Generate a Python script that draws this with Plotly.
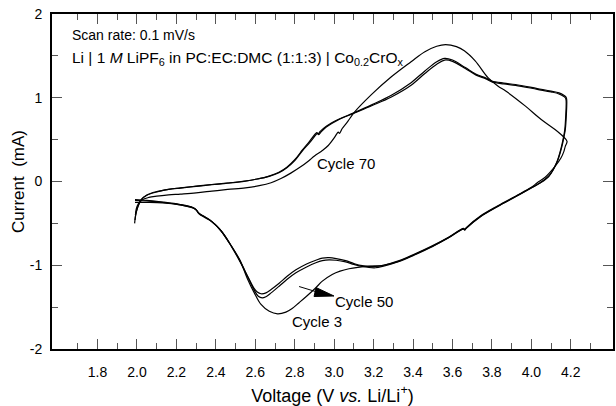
import plotly.graph_objects as go

# ---------------- data ----------------
# Cycle 3
v_c3_anodic = [1.988, 1.993, 2.003, 2.02, 2.05, 2.10, 2.16, 2.22, 2.30, 2.38, 2.46, 2.55, 2.61, 2.67, 2.72,
               2.76, 2.80, 2.84, 2.875, 2.905, 2.912, 2.918, 2.93, 2.96, 3.02, 3.10, 3.19, 3.29, 3.39, 3.46,
               3.52, 3.56, 3.60, 3.665, 3.72, 3.77, 3.80, 3.86, 3.92, 4.03, 4.10, 4.14, 4.175]
i_c3_anodic = [-0.50, -0.40, -0.31, -0.22, -0.165, -0.125, -0.095, -0.078, -0.058, -0.038, -0.02, 0.005, 0.03,
               0.065, 0.11, 0.17, 0.26, 0.38, 0.48, 0.57, 0.585, 0.57, 0.60, 0.66, 0.74, 0.82, 0.915, 1.03,
               1.18, 1.32, 1.43, 1.47, 1.45, 1.36, 1.28, 1.235, 1.20, 1.175, 1.158, 1.11, 1.08, 1.058, 1.01]
v_c3_cathodic = [4.179, 4.177, 4.172, 4.166, 4.155, 4.13, 4.09, 4.04, 4.00, 3.92, 3.83, 3.74, 3.67, 3.662,
                 3.655, 3.58, 3.50, 3.40, 3.33, 3.25, 3.18, 3.12, 3.075, 3.03, 2.99, 2.94, 2.907, 2.86, 2.822,
                 2.785, 2.755, 2.713, 2.671, 2.629, 2.595, 2.56, 2.52, 2.47, 2.42, 2.37, 2.335, 2.31, 2.30,
                 2.283, 2.22, 2.13, 2.05, 1.99]
i_c3_cathodic = [0.98, 0.78, 0.62, 0.54, 0.42, 0.23, 0.07, -0.02, -0.075, -0.18, -0.295, -0.42, -0.555, -0.575,
                 -0.565, -0.67, -0.77, -0.88, -0.95, -1.0, -1.01, -1.025, -1.042, -1.07, -1.11, -1.19, -1.268,
                 -1.37, -1.447, -1.52, -1.56, -1.58, -1.55, -1.468, -1.33, -1.16, -0.93, -0.74, -0.57, -0.46,
                 -0.41, -0.37, -0.335, -0.31, -0.275, -0.245, -0.225, -0.215]

# Cycle 50
v_c50_anodic = [1.990, 1.995, 2.005, 2.022, 2.05, 2.10, 2.16, 2.22, 2.30, 2.38, 2.46, 2.55, 2.61, 2.67, 2.72,
                2.76, 2.80, 2.84, 2.878, 2.908, 2.915, 2.921, 2.933, 2.96, 3.02, 3.10, 3.19, 3.29, 3.39, 3.46,
                3.52, 3.56, 3.60, 3.665, 3.72, 3.77, 3.80, 3.86, 3.92, 4.03, 4.10, 4.14, 4.172]
i_c50_anodic = [-0.46, -0.38, -0.30, -0.215, -0.16, -0.12, -0.093, -0.076, -0.056, -0.036, -0.018, 0.006, 0.03,
                0.062, 0.105, 0.165, 0.25, 0.37, 0.47, 0.56, 0.575, 0.56, 0.59, 0.65, 0.735, 0.815, 0.905, 1.01,
                1.15, 1.29, 1.40, 1.45, 1.435, 1.35, 1.27, 1.225, 1.19, 1.165, 1.148, 1.10, 1.07, 1.045, 1.00]
v_c50_cathodic = [4.176, 4.174, 4.169, 4.163, 4.152, 4.127, 4.088, 4.04, 4.00, 3.92, 3.83, 3.74, 3.67, 3.662,
                  3.655, 3.58, 3.50, 3.40, 3.33, 3.25, 3.21, 3.142, 3.10, 3.058, 3.01, 2.974, 2.94, 2.907, 2.86,
                  2.806, 2.76, 2.721, 2.68, 2.654, 2.635, 2.615, 2.595, 2.57, 2.53, 2.48, 2.43, 2.38, 2.34,
                  2.315, 2.305, 2.288, 2.22, 2.13, 2.05, 1.99]
i_c50_cathodic = [0.97, 0.77, 0.61, 0.53, 0.41, 0.22, 0.06, -0.025, -0.078, -0.182, -0.298, -0.425, -0.56,
                  -0.58, -0.568, -0.672, -0.775, -0.885, -0.955, -1.01, -1.03, -1.015, -0.99, -0.96, -0.94,
                  -0.935, -0.945, -0.97, -1.02, -1.09, -1.17, -1.25, -1.33, -1.375, -1.39, -1.37, -1.30, -1.18,
                  -0.99, -0.78, -0.60, -0.48, -0.425, -0.385, -0.35, -0.32, -0.28, -0.25, -0.232, -0.225]

# Cycle 70
v_c70_anodic = [1.992, 1.996, 2.006, 2.025, 2.06, 2.10, 2.16, 2.22, 2.30, 2.38, 2.46, 2.55, 2.62, 2.68, 2.73,
                2.78, 2.83, 2.87, 2.90, 2.94, 2.97, 3.00, 3.015, 3.021, 3.027, 3.04, 3.07, 3.10, 3.19, 3.29,
                3.39, 3.46, 3.52, 3.565, 3.62, 3.66, 3.715, 3.78, 3.83, 3.87, 3.97, 4.05, 4.12, 4.16, 4.181]
i_c70_anodic = [-0.40, -0.33, -0.27, -0.22, -0.19, -0.175, -0.16, -0.15, -0.135, -0.115, -0.095, -0.075, -0.05,
                -0.015, 0.035, 0.10, 0.175, 0.245, 0.305, 0.37, 0.43, 0.52, 0.575, 0.59, 0.575, 0.63, 0.72,
                0.82, 1.04, 1.25, 1.43, 1.55, 1.615, 1.635, 1.61, 1.56, 1.44, 1.24, 1.14, 1.08, 0.90, 0.74,
                0.62, 0.54, 0.48]
v_c70_cathodic = [4.172, 4.165, 4.15, 4.12, 4.07, 4.03, 4.00, 3.92, 3.83, 3.74, 3.67, 3.663, 3.656, 3.58, 3.50,
                  3.40, 3.33, 3.25, 3.21, 3.142, 3.10, 3.058, 3.01, 2.974, 2.94, 2.907, 2.86, 2.806, 2.76,
                  2.721, 2.68, 2.654, 2.629, 2.61, 2.592, 2.565, 2.525, 2.475, 2.425, 2.375, 2.338, 2.312,
                  2.302, 2.285, 2.22, 2.13, 2.05, 1.99]
i_c70_cathodic = [0.42, 0.36, 0.28, 0.18, 0.05, -0.015, -0.07, -0.175, -0.29, -0.415, -0.55, -0.57, -0.56,
                  -0.665, -0.765, -0.875, -0.945, -1.0, -1.015, -1.005, -0.98, -0.945, -0.92, -0.91, -0.915,
                  -0.94, -0.985, -1.055, -1.135, -1.215, -1.29, -1.33, -1.34, -1.32, -1.27, -1.15, -0.96,
                  -0.755, -0.585, -0.47, -0.415, -0.38, -0.345, -0.315, -0.28, -0.255, -0.25, -0.25]

x_major_ticks = [1.8, 2.0, 2.2, 2.4, 2.6, 2.8, 3.0, 3.2, 3.4, 3.6, 3.8, 4.0, 4.2]
x_tick_labels = ["1.8", "2.0", "2.2", "2.4", "2.6", "2.8", "3.0", "3.2", "3.4", "3.6", "3.8", "4.0", "4.2"]
x_minor_ticks = [1.7, 1.9, 2.1, 2.3, 2.5, 2.7, 2.9, 3.1, 3.3, 3.5, 3.7, 3.9, 4.1, 4.3]
y_major_ticks = [-2, -1, 0, 1, 2]
y_tick_labels = ["-2", "-1", "0", "1", "2"]
y_minor_ticks = [-1.5, -0.5, 0.5, 1.5]

FONT = "Liberation Sans, Arial, Helvetica, sans-serif"

cycles = [
    ("Cycle 3", v_c3_anodic + v_c3_cathodic, i_c3_anodic + i_c3_cathodic),
    ("Cycle 50", v_c50_anodic + v_c50_cathodic, i_c50_anodic + i_c50_cathodic),
    ("Cycle 70", v_c70_anodic + v_c70_cathodic, i_c70_anodic + i_c70_cathodic),
]

fig = go.Figure()
for name, v, i in cycles:
    fig.add_trace(go.Scatter(x=v, y=i, mode="lines", name=name,
                             line=dict(color="black", width=1.2), line_shape="spline"))

axis_common = dict(
    showline=True, linecolor="black", linewidth=2, mirror="allticks",
    ticks="inside", ticklen=10, tickwidth=1, tickcolor="#555555",
    showgrid=False, zeroline=False,
    tickfont=dict(family=FONT, size=14, color="black"),
)

fig.update_xaxes(
    range=[1.569, 4.414], tickmode="array", tickvals=x_major_ticks, ticktext=x_tick_labels,
    minor=dict(tickmode="array", tickvals=x_minor_ticks, ticks="inside", ticklen=6,
               tickwidth=1, tickcolor="#555555", showgrid=False),
    ticklabelstandoff=9,
    title=dict(text="Voltage (V <i>vs.</i> Li/Li<sup>+</sup>)", font=dict(family=FONT, size=18, color="black"),
               standoff=11),
    **axis_common,
)
fig.update_yaxes(
    range=[-2, 2], tickmode="array", tickvals=y_major_ticks, ticktext=y_tick_labels,
    minor=dict(tickmode="array", tickvals=y_minor_ticks, ticks="inside", ticklen=6,
               tickwidth=1, tickcolor="#555555", showgrid=False),
    ticklabelstandoff=5,
    title=dict(text="Current  (mA)", font=dict(family=FONT, size=17, color="black"), standoff=1),
    **axis_common,
)

annotations = [
    dict(x=1.66, y=1.755, xref="x", yref="y", text="Scan rate: 0.1 mV/s", xanchor="left", yanchor="middle",
         showarrow=False, font=dict(family=FONT, size=14, color="black")),
    dict(x=1.66, y=1.47, xref="x", yref="y",
         text="Li | 1 <i>M</i> LiPF<sub>6</sub> in PC:EC:DMC (1:1:3) | Co<sub>0.2</sub>CrO<sub>x</sub>",
         xanchor="left", yanchor="middle", showarrow=False, font=dict(family=FONT, size=15.5, color="black")),
    dict(x=3.06, y=0.21, xref="x", yref="y", text="Cycle 70", showarrow=False,
         font=dict(family=FONT, size=15, color="black")),
    dict(x=3.153, y=-1.427, xref="x", yref="y", text="Cycle 50", showarrow=False,
         font=dict(family=FONT, size=15, color="black")),
    dict(x=2.913, y=-1.666, xref="x", yref="y", text="Cycle 3", showarrow=False,
         font=dict(family=FONT, size=15, color="black")),
]

shapes = [
    dict(type="line", xref="x", yref="y", x0=2.822, y0=-1.254, x1=2.913, y1=-1.319,
         line=dict(color="black", width=1)),
    dict(type="path", xref="x", yref="y", path="M 2.908 -1.266 L 2.898 -1.373 L 2.999 -1.367 Z",
         fillcolor="black", line=dict(color="black", width=1)),
]

fig.update_layout(
    width=616, height=406,
    margin=dict(l=52, r=1, t=14, b=57),
    paper_bgcolor="white", plot_bgcolor="white",
    showlegend=False,
    font=dict(family=FONT, size=14, color="black"),
    annotations=annotations, shapes=shapes,
)

fig.write_html("out.html")
